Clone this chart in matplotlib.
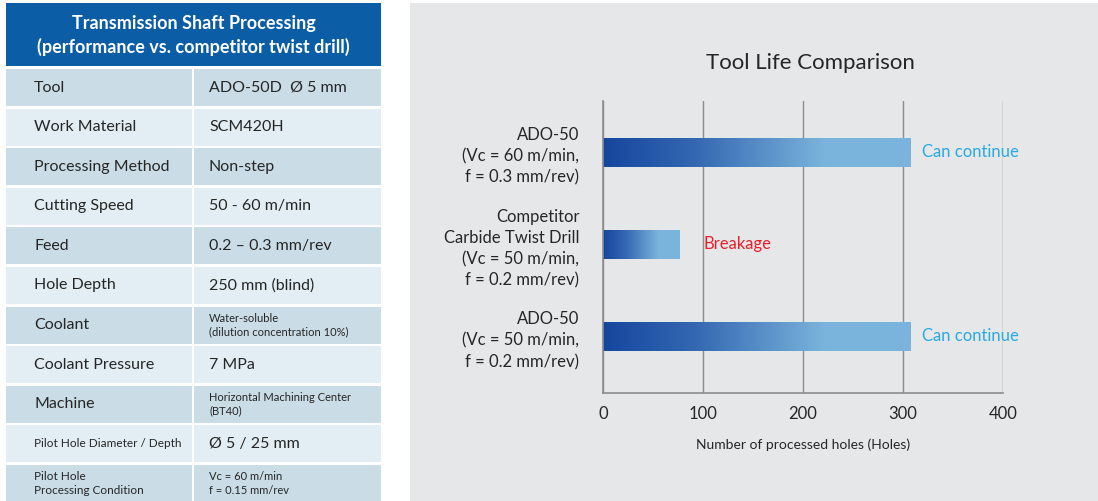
import numpy as np
import matplotlib
matplotlib.use("Agg")
import matplotlib.pyplot as plt
from matplotlib.patches import Rectangle
from matplotlib.colors import LinearSegmentedColormap

plt.rcParams['font.family'] = ['Lato', 'DejaVu Sans']

# ---------------- data ----------------
table_title = "Transmission Shaft Processing\n(performance vs. competitor twist drill)"
table_params = ["Tool", "Work Material", "Processing Method", "Cutting Speed", "Feed",
                "Hole Depth", "Coolant", "Coolant Pressure", "Machine",
                "Pilot Hole Diameter / Depth", "Pilot Hole\nProcessing Condition"]
table_values = ["ADO-50D  Ø 5 mm", "SCM420H", "Non-step", "50 - 60 m/min", "0.2 – 0.3 mm/rev",
                "250 mm (blind)", "Water-soluble\n(dilution concentration 10%)", "7 MPa",
                "Horizontal Machining Center\n(BT40)", "Ø 5 / 25 mm",
                "Vc = 60 m/min\nf = 0.15 mm/rev"]
param_small = [False, False, False, False, False, False, False, False, False, True, True]
value_small = [False, False, False, False, False, False, True, False, True, False, True]

chart_title = "Tool Life Comparison"
categories = ["ADO-50\n(Vc = 60 m/min,\nf = 0.3 mm/rev)",
              "Competitor\nCarbide Twist Drill\n(Vc = 50 m/min,\nf = 0.2 mm/rev)",
              "ADO-50\n(Vc = 50 m/min,\nf = 0.2 mm/rev)"]
holes = [308, 77, 308]
status = ["Can continue", "Breakage", "Can continue"]
status_colors = ["#27A9E1", "#E8202A", "#27A9E1"]
status_offsets = [8, 17, 8]
xticks = [0, 100, 200, 300, 400]
xlabel = "Number of processed holes (Holes)"

# ---------------- figure ----------------
W, H = 1098, 501
fig = plt.figure(figsize=(W / 100, H / 100), dpi=100)
fig.patch.set_facecolor("white")

bg = fig.add_axes([0, 0, 1, 1])
bg.set_xlim(0, W)
bg.set_ylim(H, 0)
bg.axis("off")

# table
tx0, tx1, tmid = 6, 381, 193
bg.add_patch(Rectangle((tx0, 3), tx1 - tx0, 63, color="#0B5EA6", lw=0))
bg.text((tx0 + tx1) / 2, 35.5, table_title, color="white", fontweight="bold",
        fontsize=13, ha="center", va="center", linespacing=1.45)
row0, pitch, rh = 69, 39.6, 37
dark, light = "#CADCE5", "#E2EEF3"
for i, (p, v) in enumerate(zip(table_params, table_values)):
    y = row0 + i * pitch
    c = dark if i % 2 == 0 else light
    bg.add_patch(Rectangle((tx0, y), tmid - 1 - tx0, rh, color=c, lw=0))
    bg.add_patch(Rectangle((tmid + 1, y), tx1 - tmid - 1, rh, color=c, lw=0))
    yc = y + rh / 2
    bg.text(34, yc, p, fontsize=8.5 if param_small[i] else 11.5, color="#262626",
            ha="left", va="center", linespacing=1.35)
    bg.text(209, yc, v, fontsize=8 if value_small[i] else 11.5, color="#262626",
            ha="left", va="center", linespacing=1.3)

# chart panel
panel_color = "#E6E7E9"
bg.add_patch(Rectangle((410, 3), W - 410, H - 3, color=panel_color, lw=0))
bg.text(810, 63, chart_title, fontsize=16, color="#262626", ha="center", va="center")

# chart axes
ax = fig.add_axes([603 / W, 1 - 393.3 / H, 400 / W, (393.3 - 101) / H])
ax.set_facecolor(panel_color)
pos = np.arange(len(categories))
bh = 0.31
bars = ax.barh(pos, holes, height=bh, color="none", lw=0)

cmap = LinearSegmentedColormap.from_list(
    "g", [(0, "#15469E"), (0.3, "#3468B2"), (0.72, "#7AB4DC"), (1, "#7AB4DC")])
grad = np.linspace(0, 1, 256).reshape(1, -1)
for b, val, p in zip(bars, holes, pos):
    im = ax.imshow(grad, cmap=cmap, aspect="auto",
                   extent=[0, val, p + bh / 2, p - bh / 2], zorder=2)
    im.set_clip_path(b)

for p, val, s, c, off in zip(pos, holes, status, status_colors, status_offsets):
    ax.annotate(s, (val, p), xytext=(off, 0), textcoords="offset points",
                color=c, fontsize=12, ha="left", va="center", zorder=3)

ax.set_xlim(0, 400)
ax.set_ylim(2.617, -0.558)
ax.set_xticks(xticks)
ax.set_yticks(pos)
ax.set_yticklabels(categories, fontsize=12, color="#262626", linespacing=1.4)
ax.tick_params(axis="x", length=0, pad=9, labelsize=12, labelcolor="#262626")
ax.tick_params(axis="y", length=0, pad=17)
ax.xaxis.grid(True, color="#8C8C8C", lw=1)
ax.set_axisbelow(True)
for s in ["top", "right"]:
    ax.spines[s].set_visible(False)
for s in ["left", "bottom"]:
    ax.spines[s].set_color("#8C8C8C")
    ax.spines[s].set_linewidth(1.2)
ax.set_xlabel(xlabel, fontsize=10, color="#262626", labelpad=12)

fig.savefig("out.png", dpi=100, facecolor="white")
